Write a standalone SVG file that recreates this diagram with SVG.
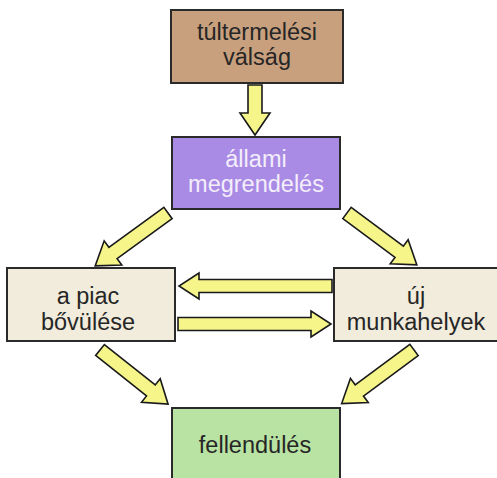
<svg xmlns="http://www.w3.org/2000/svg" width="497" height="478" viewBox="0 0 497 478">
<style>
.box{stroke:#2a2a2a;stroke-width:2}
.t{font-family:"Liberation Sans",Arial,sans-serif;font-size:23.5px;fill:#262626;text-anchor:middle}
.arr{fill:#f5f58a;stroke:#1a1a1a;stroke-width:1.6;stroke-linejoin:miter}
</style>
<defs>
<path id="a50" d="M0,-7 H28 V-15 L50,0 L28,15 V7 H0 Z"/>
<path id="a90" d="M0,-7 H68 V-15 L90,0 L68,15 V7 H0 Z"/>
<path id="a87" d="M0,-7 H65 V-15 L87,0 L65,15 V7 H0 Z"/>
<path id="a153" d="M0,-6.5 H133 V-13 L153,0 L133,13 V6.5 H0 Z"/>
</defs>
<rect width="497" height="478" fill="#ffffff"/>
<g id="connectors">
<use href="#a50" class="arr" transform="translate(255,85) rotate(90)"/>
<use href="#a90" class="arr" transform="translate(168,213) rotate(144)"/>
<use href="#a87" class="arr" transform="translate(347,213) rotate(36.6)"/>
<use href="#a153" class="arr" transform="translate(332,286) rotate(180)"/>
<use href="#a153" class="arr" transform="translate(178,324)"/>
<use href="#a87" class="arr" transform="translate(100,350) rotate(38.5)"/>
<use href="#a90" class="arr" transform="translate(414,350) rotate(143.5)"/>
</g>
<g id="node-tultermelesi">
<rect class="box" x="171" y="10" width="172" height="73" fill="#c9a07d"/>
<text class="t" x="257" y="39.5">túltermelési</text>
<text class="t" x="257" y="64.5">válság</text>
</g>
<g id="node-allami">
<rect class="box" x="172" y="137" width="168" height="72" fill="#a98be6"/>
<text class="t" x="256" y="166.5" style="fill:#f4eefa">állami</text>
<text class="t" x="256" y="192" style="fill:#f4eefa">megrendelés</text>
</g>
<g id="node-piac">
<rect class="box" x="7" y="268" width="168" height="73" fill="#f2ecdc"/>
<text class="t" x="88" y="304">a piac</text>
<text class="t" x="88" y="329.5">bővülése</text>
</g>
<g id="node-munkahelyek">
<rect class="box" x="334" y="268" width="170" height="73" fill="#f2ecdc"/>
<text class="t" x="416" y="304">új</text>
<text class="t" x="416" y="329.5">munkahelyek</text>
</g>
<g id="node-fellendules">
<rect class="box" x="172" y="408" width="168" height="80" fill="#b9e3a3"/>
<text class="t" x="255" y="453">fellendülés</text>
</g>
</svg>
